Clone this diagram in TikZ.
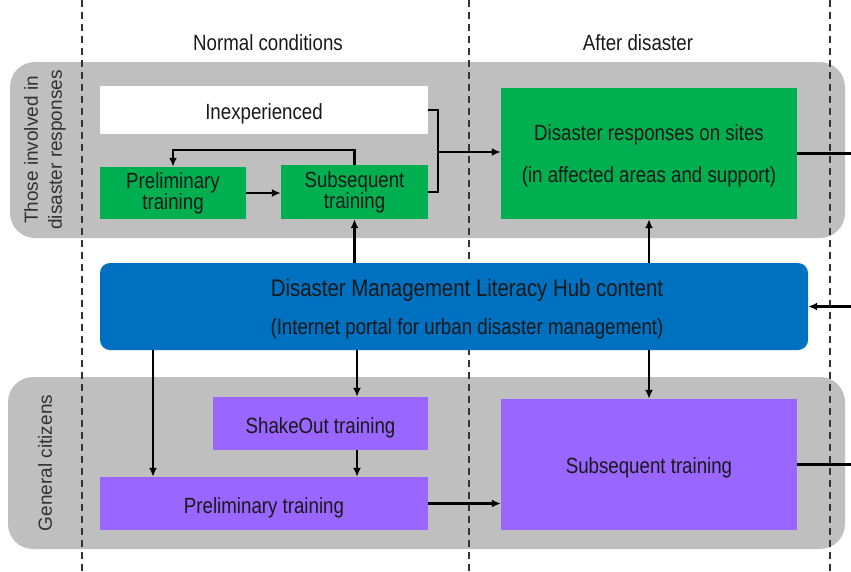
\documentclass[tikz,border=0pt]{standalone}
\usepackage{fontspec}
\setmainfont{Liberation Sans}[FakeStretch=0.85]
\newfontfamily\widefont{Liberation Sans}
\usetikzlibrary{arrows.meta}
\definecolor{bandgray}{RGB}{191,191,191}
\definecolor{boxgreen}{RGB}{0,176,80}
\definecolor{hubblue}{RGB}{0,112,192}
\definecolor{boxpurple}{RGB}{153,102,255}
\definecolor{sidetext}{RGB}{50,50,50}
\tikzset{
  band/.style={fill=bandgray, draw=none, rounded corners=25pt},
  divider/.style={dashed, dash pattern=on 7pt off 5pt, line width=1.2pt, black!80},
  box/.style={draw=none, inner sep=0pt, align=center, text=black!90,
              font=\fontsize{22}{21}\selectfont},
  oneline/.style={text height=19.5pt, text depth=0pt},
  greenbox/.style={box, fill=boxgreen},
  purplebox/.style={box, fill=boxpurple},
  whitebox/.style={box, fill=white},
  hubbox/.style={box, fill=hubblue, rounded corners=10pt},
  hubtxt/.style={inner sep=0pt, align=center, text=black!90, font=\fontsize{22}{21}\selectfont},
  conn/.style={line width=2.3pt, black},
  arr/.style={conn, -{Latex[length=9pt,width=8pt]}},
  header/.style={font=\fontsize{22}{24}\selectfont, text=black!90},
  sidelabel/.style={font=\widefont\fontsize{19}{24}\selectfont, text=sidetext, rotate=90, align=center}
}
\begin{document}
\begin{tikzpicture}[x=1pt,y=-1pt]
\useasboundingbox (0,0) rectangle (851,571);
% bands
\fill[band] (10,62) rectangle (845,238);
\fill[band] (8,377) rectangle (845,549);
% dividers
\draw[divider] (82,0) -- (82,571);
\draw[divider] (469,0) -- (469,571);
\draw[divider] (830,0) -- (830,571);
% headers
\node[header] (hnormal) at (268,43) {Normal conditions};
\node[header] (hafter) at (638,43) {After disaster};
% side labels
\node[sidelabel] (sidetop) at (45,150) {Those involved in\\disaster responses};
\node[sidelabel] (sidebot) at (45,463) {General citizens};
% boxes
\node[whitebox, oneline, minimum width=328pt, minimum height=48pt] (inexp) at (264,110) {Inexperienced};
\node[greenbox, minimum width=146pt, minimum height=52pt] (prelimG) at (173,193) {Preliminary\\training};
\node[greenbox, minimum width=147pt, minimum height=54pt] (subG) at (354.5,192) {Subsequent\\training};
\node[greenbox, minimum width=296pt, minimum height=131pt] (resp) at (649,153.5) {};
\node[hubtxt] (resptext) at (649,155.5) {Disaster responses on sites\\[21pt](in affected areas and support)};
\node[hubbox, minimum width=708pt, minimum height=87pt] (hub) at (454,306.5) {};
\node[hubtxt] (hubtext) at (467,309.5)
  {{\fontsize{24}{24}\selectfont Disaster Management Literacy Hub content}\\[17pt](Internet portal for urban disaster management)};
\node[purplebox, oneline, minimum width=215pt, minimum height=53pt] (shake) at (320.5,423.5) {ShakeOut training};
\node[purplebox, oneline, minimum width=328pt, minimum height=53pt] (prelimP) at (264,503.5) {Preliminary training};
\node[purplebox, text height=17pt, text depth=0pt, minimum width=296pt, minimum height=131pt] (subP) at (649,464.5) {Subsequent training};
% helper coordinates
\coordinate (R) at (851,0);
\coordinate (j) at (438,152);
\coordinate (c357) at (357,0);
\coordinate (c153) at (153,0);
% connectors
\draw[conn] (inexp.east) -| (j) |- (subG.east);
\draw[arr] (j) -- (j -| resp.west);
\draw[arr] (subG.north) -- ++(0,-15) -| (prelimG.north);
\draw[arr] (prelimG.east) -- (prelimG.east -| subG.west);
\draw[arr] (subG |- hub.north) -- (subG.south);
\draw[arr] (resp |- hub.north) -- (resp.south);
\draw[conn] (resp.east) -- (resp.east -| R);
\draw[arr] (hub.east -| R) -- (hub.east);
\draw[conn] (subP.east) -- (subP.east -| R);
\draw[arr] (c153 |- hub.south) -- (c153 |- prelimP.north);
\draw[arr] (c357 |- hub.south) -- (c357 |- shake.north);
\draw[arr] (c357 |- shake.south) -- (c357 |- prelimP.north);
\draw[arr] (subP |- hub.south) -- (subP.north);
\draw[arr] (prelimP.east) -- (prelimP.east -| subP.west);
\end{tikzpicture}
\end{document}
